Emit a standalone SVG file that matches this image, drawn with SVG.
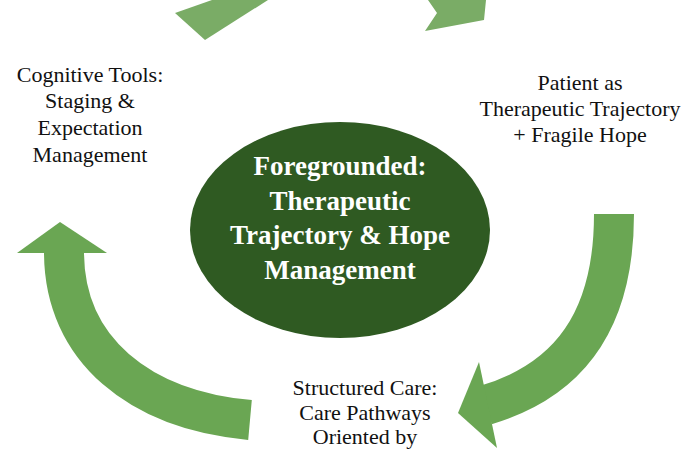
<svg xmlns="http://www.w3.org/2000/svg" width="700" height="450" viewBox="0 0 700 450">
<style>
.arr{fill:none;stroke:#6aa653;stroke-width:40}
.hd{fill:#6aa653}
.t{font-family:"Liberation Serif","Times New Roman","DejaVu Serif",serif;font-size:22px;fill:#111;text-anchor:middle}
.c{font-family:"Liberation Serif","Times New Roman","DejaVu Serif",serif;font-size:27px;font-weight:bold;fill:#fff;text-anchor:middle}
</style>
<rect width="700" height="450" fill="#fff"/>
<g id="connectors">
<polygon points="175,13 212,0 268,0 205,40" style="fill:#7aac66"/>
<polygon points="428,0 437,13 425,31 484,20 486,0" style="fill:#7aac66"/>
<path class="arr" d="M614,214 C614,320 570,380 486,405"/>
<polygon class="hd" points="479,362 458,413 497,448"/>
<path class="arr" d="M250,420 C140,410 64,350 64,252"/>
<polygon class="hd" points="17,253 60,222 107,253"/>
</g>
<g id="center">
<ellipse cx="340" cy="230" rx="150" ry="108" fill="#2f5a22"/>
<text class="c" x="340" y="175">Foregrounded:</text>
<text class="c" x="340" y="210">Therapeutic</text>
<text class="c" x="340" y="244">Trajectory &amp; Hope</text>
<text class="c" x="340" y="279">Management</text>
</g>
<g id="cognitive">
<text class="t" x="90" y="82">Cognitive Tools:</text>
<text class="t" x="90" y="108">Staging &amp;</text>
<text class="t" x="90" y="135">Expectation</text>
<text class="t" x="90" y="162">Management</text>
</g>
<g id="patient">
<text class="t" x="580" y="90">Patient as</text>
<text class="t" x="580" y="116">Therapeutic Trajectory</text>
<text class="t" x="580" y="142">+ Fragile Hope</text>
</g>
<g id="structured">
<text class="t" x="365" y="395">Structured Care:</text>
<text class="t" x="365" y="420">Care Pathways</text>
<text class="t" x="365" y="444">Oriented by</text>
</g>
</svg>
